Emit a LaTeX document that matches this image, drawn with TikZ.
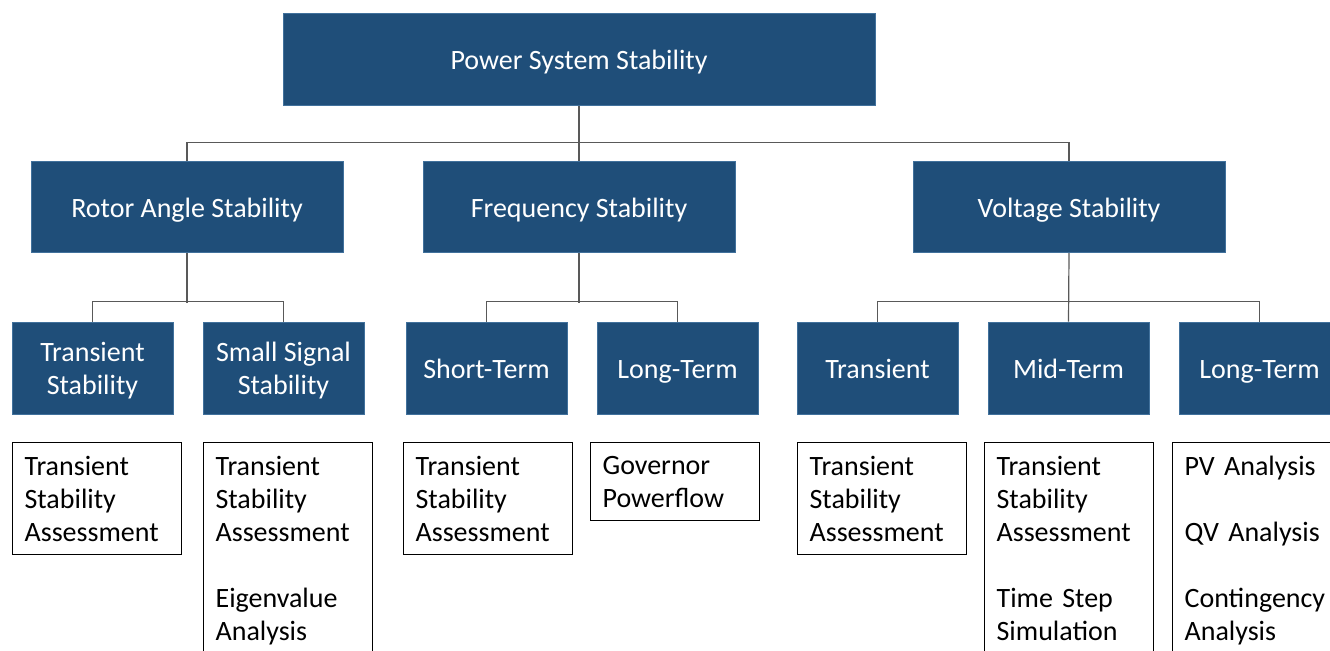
\documentclass[tikz,border=0pt]{standalone}
\usepackage{fontspec}
\setmainfont{Carlito}
\definecolor{boxblue}{RGB}{31,78,121}
\definecolor{boxedge}{RGB}{65,113,156}
\definecolor{linkgray}{RGB}{89,89,89}
\begin{document}
\begin{tikzpicture}[x=0.75pt, y=-0.75pt,
    blue/.style = {draw=boxedge, line width=0.75pt, fill=boxblue, text=white, align=center,
                   font=\fontsize{21}{24.75}\selectfont, inner sep=0pt,
                   text height=15pt, text depth=0pt},
    top/.style = {blue, minimum width=444pt, minimum height=69pt},
    cat/.style = {blue, minimum width=234pt, minimum height=68.25pt},
    sub/.style = {blue, minimum width=120.75pt, minimum height=69pt},
    twoline/.style = {text height=39.75pt},
    tool/.style = {draw=black, line width=0.9pt, fill=white, anchor=north west, align=left,
                   text width=108.75pt, inner xsep=9pt, inner ysep=10pt,
                   font=\fontsize{21}{24.75}\selectfont},
    link/.style = {draw=linkgray, line width=0.9pt}]
  \useasboundingbox (0,0) rectangle (1330,650);
  \clip (0,0) rectangle (1330,650);

  \node[top] (pss) at (579,59) {Power System Stability};

  \node[cat] (ras) at (187,207) {Rotor Angle Stability};
  \node[cat] (fs) at (579,207) {Frequency Stability};
  \node[cat] (vs) at (1069,207) {Voltage Stability};

  \node[sub, twoline] (ras1) at (92.5,368) {Transient\\Stability};
  \node[sub, twoline] (ras2) at (283.5,368) {Small Signal\\Stability};
  \node[sub] (fs1) at (486.5,368) {Short-Term};
  \node[sub] (fs2) at (677.5,368) {Long-Term};
  \node[sub] (vs1) at (877.5,368) {Transient};
  \node[sub] (vs2) at (1068.5,368) {Mid-Term};
  \node[sub] (vs3) at (1259.5,368) {Long-Term};

  \node[tool] (t1) at (12,442) {Transient\\Stability\\Assessment};
  \node[tool] (t2) at (203,442) {Transient\\Stability\\Assessment\\[24.75pt]Eigenvalue\\Analysis};
  \node[tool] (t3) at (403,442) {Transient\\Stability\\Assessment};
  \node[tool] (t4) at (590,442) {Governor\\Powerflow};
  \node[tool] (t5) at (797,442) {Transient\\Stability\\Assessment};
  \node[tool] (t6) at (984,442) {Transient\\Stability\\Assessment\\[24.75pt]Time Step\\Simulation};
  \node[tool] (t7) at (1172,442) {PV Analysis\\[24.75pt]QV Analysis\\[24.75pt]Contingency\\Analysis};

  % top level
  \draw[link] (pss.south) -- (fs.north);
  \draw[link] (ras.north) -- ++(0,-18.5) -| (vs.north);

  % second level
  \draw[link] (ras.south) -- ++(0,49.5);
  \draw[link] (ras1.north) -- ++(0,-20) -| (ras2.north);
  \draw[link] (fs.south) -- ++(0,49.5);
  \draw[link] (fs1.north) -- ++(0,-20) -| (fs2.north);
  \draw[link] (vs.south) -- (vs2.north);
  \draw[link] (vs1.north) -- ++(0,-20) -| (vs3.north);
\end{tikzpicture}
\end{document}
